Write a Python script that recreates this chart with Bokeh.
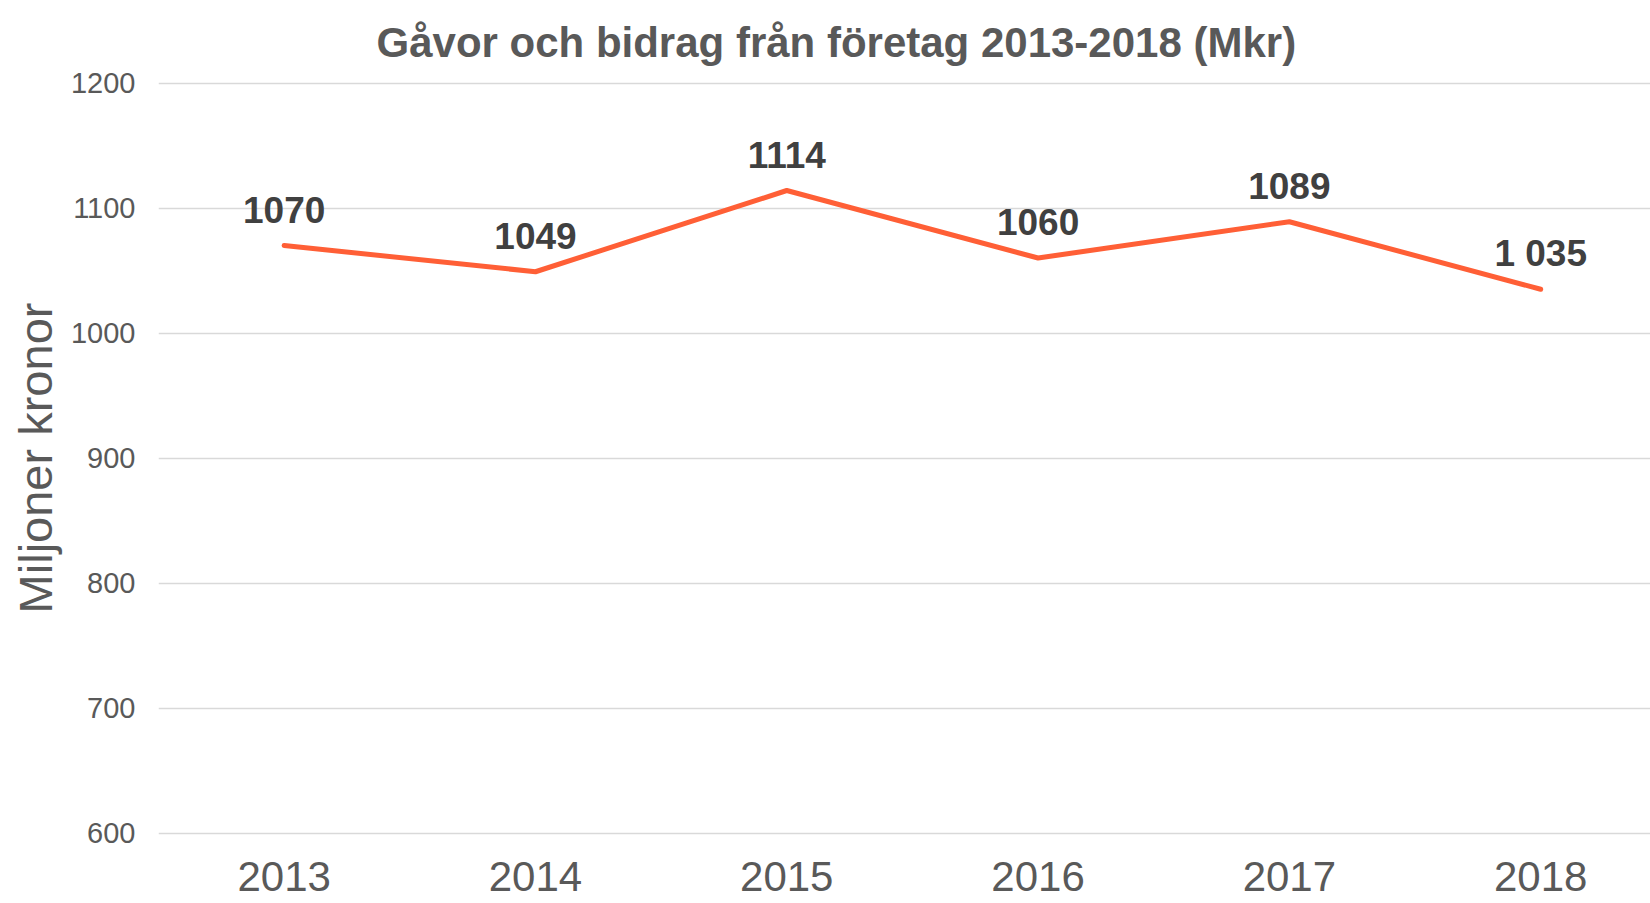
from bokeh.plotting import figure
from bokeh.models import ColumnDataSource, FixedTicker, Range1d
from bokeh.core.properties import value
from bokeh.embed import file_html
from bokeh.resources import INLINE

years = [2013, 2014, 2015, 2016, 2017, 2018]
amounts = [1070, 1049, 1114, 1060, 1089, 1035]
amount_labels = ["1070", "1049", "1114", "1060", "1089", "1 035"]
y_ticks = [600, 700, 800, 900, 1000, 1100, 1200]
title_text = "Gåvor och bidrag från företag 2013-2018 (Mkr)"
y_label = "Miljoner kronor"

FONT = "Liberation Sans"
GRAY = "#595959"

src = ColumnDataSource(dict(x=years, y=amounts, lab=amount_labels))

p = figure(width=1650, height=903, output_backend="svg", toolbar_location=None,
           x_range=Range1d(2012.5, 2018.437), y_range=Range1d(598, 1202),
           min_border_left=158, min_border_right=0, min_border_top=80, min_border_bottom=68)
p.outline_line_color = None
p.background_fill_color = "white"
p.border_fill_color = "white"

p.title.text = title_text
p.title.text_font = FONT
p.title.text_font_size = "42px"
p.title.text_color = GRAY
p.title.align = "left"
p.title.text_font_style = "bold"
p.title.offset = 218
p.title.standoff = 26
p.title.vertical_align = "top"
p.title.text_line_height = 0.2

p.xgrid.grid_line_color = None
p.ygrid.grid_line_color = "#D9D9D9"
p.ygrid.grid_line_width = 1.5
p.ygrid.ticker = FixedTicker(ticks=y_ticks)

p.xaxis.ticker = FixedTicker(ticks=years)
p.xaxis.axis_line_color = None
p.xaxis.major_tick_line_color = None
p.xaxis.minor_tick_line_color = None
p.xaxis.major_label_text_font = FONT
p.xaxis.major_label_text_font_size = "42px"
p.xaxis.major_label_text_color = GRAY
p.xaxis.major_label_standoff = 20

p.yaxis.ticker = FixedTicker(ticks=y_ticks)
p.yaxis.axis_line_color = None
p.yaxis.major_tick_line_color = None
p.yaxis.minor_tick_line_color = None
p.yaxis.major_label_text_font = FONT
p.yaxis.major_label_text_font_size = "29px"
p.yaxis.major_label_text_color = GRAY
p.yaxis.major_label_standoff = 17
p.yaxis.axis_label = y_label
p.yaxis.axis_label_text_font = FONT
p.yaxis.axis_label_text_font_size = "47px"
p.yaxis.axis_label_text_font_style = "normal"
p.yaxis.axis_label_text_color = GRAY
p.yaxis.axis_label_standoff = 6

p.line("x", "y", source=src, line_color="#FF5F36", line_width=5, line_join="round", line_cap="round")
p.text("x", "y", text="lab", source=src, text_font=value(FONT), text_font_size="37px",
       text_font_style="bold", text_color="#404040", text_align="center",
       text_baseline="middle", y_offset=-36)

open("out.html", "w").write(file_html(p, INLINE))
